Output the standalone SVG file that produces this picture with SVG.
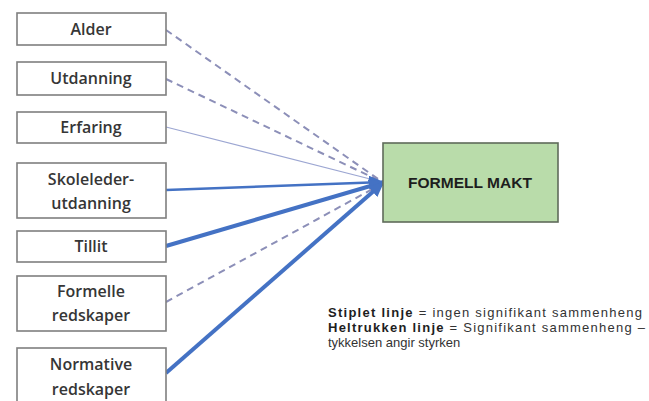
<svg xmlns="http://www.w3.org/2000/svg" width="649" height="401" viewBox="0 0 649 401">
  <defs>
    <style>
      .box { fill: #ffffff; stroke: #7f7f7f; stroke-width: 1.6; }
      .lbl { font-family: "Open Sans", "Liberation Sans", sans-serif; font-weight: 600; font-size: 16px; fill: #363636; text-anchor: middle; }
      .target { fill: #b9dcaa; stroke: #5f6b5a; stroke-width: 1.6; }
      .tlbl { font-family: "Liberation Sans", sans-serif; font-weight: bold; font-size: 15px; fill: #1e1e1e; text-anchor: middle; }
      .dash { fill: none; stroke: #8c8fb8; stroke-width: 2; stroke-dasharray: 7 5; }
      .thin { fill: none; stroke: #9ca6d2; stroke-width: 1.1; }
      .solid { fill: none; stroke: #4472c4; }
      .legend { font-family: "Liberation Sans", sans-serif; font-size: 13px; fill: #333333; }
      .legend .b { font-weight: bold; fill: #1e1e1e; }
    </style>
    <marker id="arrow" markerUnits="userSpaceOnUse" markerWidth="16" markerHeight="14" refX="15" refY="7" orient="auto">
      <path d="M0,0 L15,7 L0,14 z" fill="#4472c4"/>
    </marker>
  </defs>
  <rect width="649" height="401" fill="#ffffff"/>

  <g id="connectors">
    <line class="dash" x1="166" y1="30" x2="378" y2="179"/>
    <line class="dash" x1="166" y1="79" x2="378" y2="180"/>
    <line class="thin" x1="166" y1="127" x2="378" y2="181"/>
    <line class="solid" stroke-width="2.5" x1="166" y1="190" x2="384" y2="182" marker-end="url(#arrow)"/>
    <line class="solid" stroke-width="4" x1="166" y1="246" x2="384" y2="182" marker-end="url(#arrow)"/>
    <line class="dash" x1="166" y1="302" x2="378" y2="186"/>
    <line class="solid" stroke-width="4" x1="166" y1="373" x2="384" y2="182" marker-end="url(#arrow)"/>
  </g>

  <g id="alder">
    <rect class="box" x="17" y="13" width="149" height="32"/>
    <text class="lbl" x="91" y="35">Alder</text>
  </g>
  <g id="utdanning">
    <rect class="box" x="17" y="62" width="149" height="33"/>
    <text class="lbl" x="91" y="84">Utdanning</text>
  </g>
  <g id="erfaring">
    <rect class="box" x="17" y="112" width="149" height="31"/>
    <text class="lbl" x="91" y="133">Erfaring</text>
  </g>
  <g id="skoleleder">
    <rect class="box" x="17" y="163" width="149" height="55"/>
    <text class="lbl" x="91" y="185">Skoleleder-</text>
    <text class="lbl" x="91" y="209">utdanning</text>
  </g>
  <g id="tillit">
    <rect class="box" x="17" y="231" width="149" height="31"/>
    <text class="lbl" x="91" y="252">Tillit</text>
  </g>
  <g id="formelle">
    <rect class="box" x="17" y="276" width="149" height="55"/>
    <text class="lbl" x="91" y="297">Formelle</text>
    <text class="lbl" x="91" y="321">redskaper</text>
  </g>
  <g id="normative">
    <rect class="box" x="17" y="348" width="149" height="60"/>
    <text class="lbl" x="91" y="370">Normative</text>
    <text class="lbl" x="91" y="395">redskaper</text>
  </g>

  <g id="formell-makt">
    <rect class="target" x="383" y="143" width="175" height="79"/>
    <text class="tlbl" x="470" y="188" textLength="124" lengthAdjust="spacingAndGlyphs">FORMELL MAKT</text>
  </g>

  <g id="legend">
    <text class="legend" x="328" y="317" textLength="314" lengthAdjust="spacing"><tspan class="b">Stiplet linje</tspan> = ingen signifikant sammenheng</text>
    <text class="legend" x="328" y="332" textLength="317" lengthAdjust="spacing"><tspan class="b">Heltrukken linje</tspan> = Signifikant sammenheng –</text>
    <text class="legend" x="328" y="347">tykkelsen angir styrken</text>
  </g>
</svg>
